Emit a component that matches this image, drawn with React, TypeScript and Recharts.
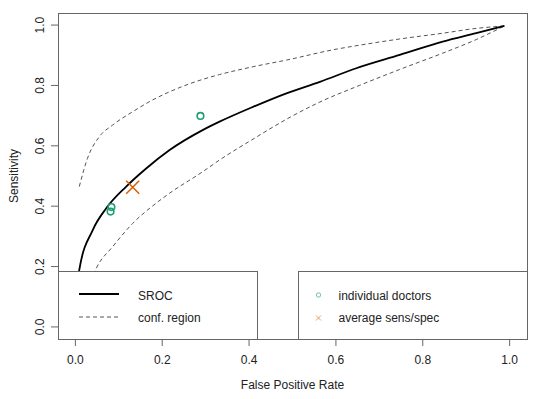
import { ComposedChart, Label, Line, Scatter, XAxis, YAxis } from "recharts";

const TICKS = [0, 0.2, 0.4, 0.6, 0.8, 1.0];
const DOMAIN = [-0.04, 1.04];

// SROC curve (false positive rate vs sensitivity)
const srocFpr = [0.002, 0.009, 0.04, 0.071, 0.117, 0.163, 0.217, 0.293, 0.332, 0.409, 0.486, 0.563, 0.647, 0.747, 0.846, 0.923, 0.988];
const srocSens = [0.12, 0.189, 0.321, 0.393, 0.465, 0.525, 0.586, 0.652, 0.68, 0.729, 0.774, 0.812, 0.857, 0.901, 0.945, 0.973, 0.997];

// confidence region, upper and lower bounds
const upperFpr = [0.009, 0.028, 0.055, 0.086, 0.132, 0.178, 0.217, 0.293, 0.332, 0.409, 0.486, 0.593, 0.67, 0.747, 0.846, 0.923, 0.988];
const upperSens = [0.465, 0.559, 0.63, 0.669, 0.713, 0.752, 0.779, 0.82, 0.836, 0.862, 0.884, 0.918, 0.937, 0.954, 0.973, 0.989, 0.997];
const lowerFpr = [0.03, 0.048, 0.086, 0.132, 0.186, 0.217, 0.293, 0.332, 0.409, 0.486, 0.563, 0.654, 0.747, 0.846, 0.923, 0.988];
const lowerSens = [0.13, 0.194, 0.266, 0.343, 0.41, 0.443, 0.514, 0.553, 0.622, 0.688, 0.745, 0.8, 0.853, 0.907, 0.952, 0.997];

const doctorFpr = [0.288, 0.081, 0.083];
const doctorSens = [0.699, 0.382, 0.397];
const avgFpr = [0.132];
const avgSens = [0.463];

const toPoints = (xs: number[], ys: number[]) => xs.map((x, i) => ({ x, y: ys[i] }));

const GREEN = "#1B9E77";
const ORANGE = "#D95F02";
const TEXT = "#222";
const FRAME = "#666";
const FONT = "'Liberation Sans', Arial, sans-serif";

const YTick = ({ x, y, payload }: any) => (
	<text x={x} y={y} transform={`rotate(-90, ${x}, ${y})`} textAnchor="middle" fontSize={12} fill={TEXT}>
		{Number(payload.value).toFixed(1)}
	</text>
);

const Circle = ({ cx, cy }: any) => <circle cx={cx} cy={cy} r={3.3} fill="none" stroke={GREEN} strokeWidth={1.6} />;

const Cross = ({ cx, cy }: any) => (
	<path d={`M${cx - 6.5},${cy - 6.5}L${cx + 6.5},${cy + 6.5}M${cx - 6.5},${cy + 6.5}L${cx + 6.5},${cy - 6.5}`} stroke={ORANGE} strokeWidth={1.5} />
);

const boxStyle = {
	position: "absolute" as const,
	top: 271,
	height: 69,
	boxSizing: "border-box" as const,
	border: `1px solid ${FRAME}`,
	background: "#fff",
};

export default function App() {
	return (
		<div style={{ position: "absolute", left: 0, top: 0, width: 540, height: 399, background: "#fff", fontFamily: FONT }}>
			<ComposedChart width={540} height={399} margin={{ top: 13, right: 13, bottom: 0, left: 0 }}>
				<XAxis
					type="number"
					dataKey="x"
					domain={DOMAIN}
					ticks={TICKS}
					tickFormatter={(v) => v.toFixed(1)}
					axisLine={false}
					tickSize={7}
					tickMargin={9}
					tickLine={{ stroke: FRAME }}
					tick={{ fontSize: 12, fill: TEXT }}
					height={60}
				>
					<Label
						content={({ viewBox }: any) => (
							<text x={viewBox.x + viewBox.width / 2} y={viewBox.y + 50} textAnchor="middle" fontSize={12} fill={TEXT}>
								False Positive Rate
							</text>
						)}
					/>
				</XAxis>
				<YAxis
					type="number"
					dataKey="y"
					domain={DOMAIN}
					ticks={TICKS}
					axisLine={false}
					tickSize={7}
					tickMargin={7}
					tickLine={{ stroke: FRAME }}
					tick={<YTick />}
					width={58}
				>
					<Label
						content={({ viewBox }: any) => {
							const cy = viewBox.y + viewBox.height / 2;
							return (
								<text x={18} y={cy} transform={`rotate(-90, 18, ${cy})`} textAnchor="middle" fontSize={12} fill={TEXT}>
									Sensitivity
								</text>
							);
						}}
					/>
				</YAxis>
				<Line data={toPoints(upperFpr, upperSens)} dataKey="y" type="monotone" stroke="#555" strokeWidth={1} strokeDasharray="4 3" dot={false} isAnimationActive={false} />
				<Line data={toPoints(lowerFpr, lowerSens)} dataKey="y" type="monotone" stroke="#555" strokeWidth={1} strokeDasharray="4 3" dot={false} isAnimationActive={false} />
				<Line data={toPoints(srocFpr, srocSens)} dataKey="y" type="monotone" stroke="#000" strokeWidth={1.8} dot={false} isAnimationActive={false} />
				<Scatter data={toPoints(doctorFpr, doctorSens)} shape={<Circle />} isAnimationActive={false} />
				<Scatter data={toPoints(avgFpr, avgSens)} shape={<Cross />} isAnimationActive={false} />
			</ComposedChart>

			{/* plot frame */}
			<div style={{ position: "absolute", left: 58, top: 13, width: 470, height: 327, boxSizing: "border-box", border: `1px solid ${FRAME}` }} />

			{/* legends, drawn over the plot like R does */}
			<div style={{ ...boxStyle, left: 58, width: 200 }}>
				<svg width={200} height={69} style={{ display: "block" }}>
					<line x1={20} x2={60} y1={22} y2={22} stroke="#000" strokeWidth={2} />
					<line x1={20} x2={60} y1={45} y2={45} stroke="#555" strokeWidth={1} strokeDasharray="4 3" />
					<text x={79} y={28} fontSize={12} fill={TEXT}>SROC</text>
					<text x={79} y={50} fontSize={12} fill={TEXT}>conf. region</text>
				</svg>
			</div>
			<div style={{ ...boxStyle, left: 298, width: 230 }}>
				<svg width={230} height={69} style={{ display: "block" }}>
					<circle cx={19.5} cy={23} r={2.2} fill="none" stroke={GREEN} strokeOpacity={0.6} strokeWidth={1} />
					<path d="M17,43.5L22,48.5M17,48.5L22,43.5" stroke={ORANGE} strokeOpacity={0.6} strokeWidth={1} />
					<text x={39.5} y={28} fontSize={12} fill={TEXT}>individual doctors</text>
					<text x={39.5} y={50} fontSize={12} fill={TEXT}>average sens/spec</text>
				</svg>
			</div>
		</div>
	);
}
